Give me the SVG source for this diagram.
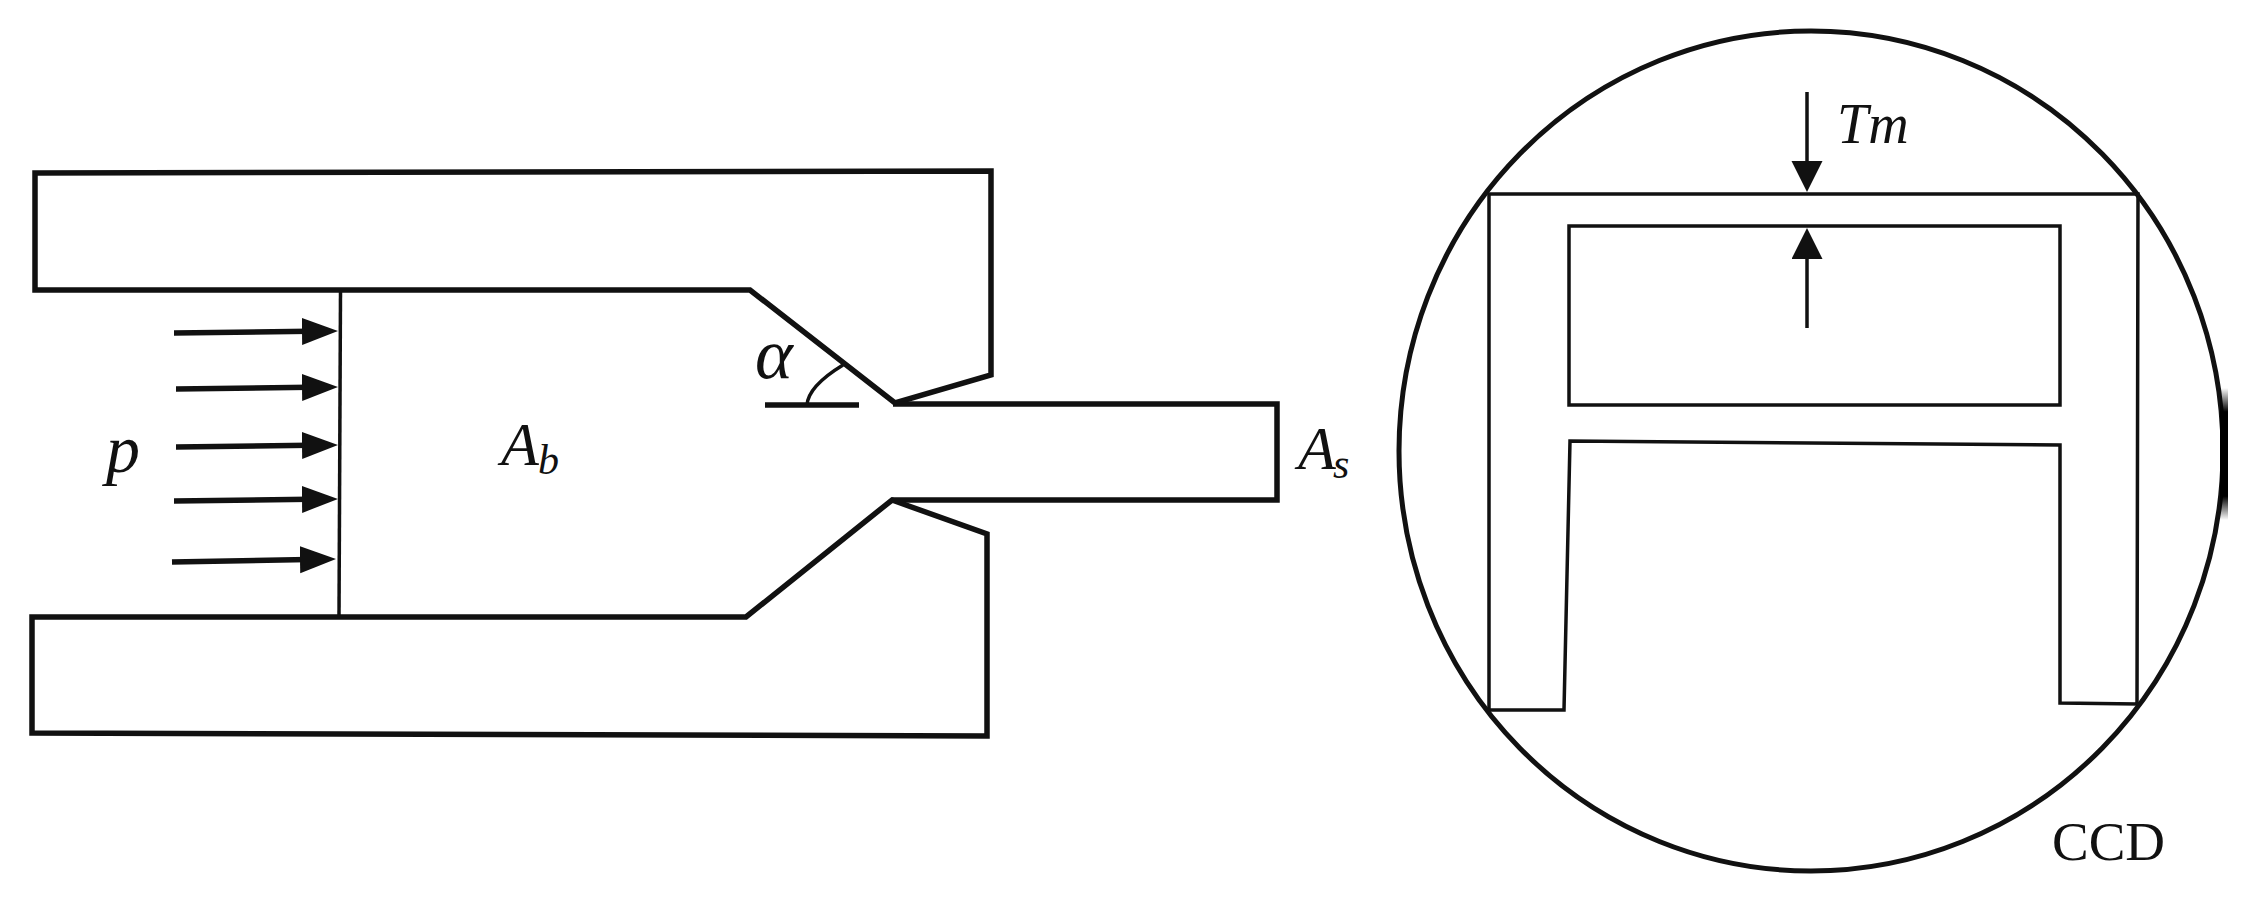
<svg xmlns="http://www.w3.org/2000/svg" width="2256" height="904" viewBox="0 0 2256 904">
<style>
.s{fill:none;stroke:#111;stroke-linejoin:miter;stroke-linecap:butt}
.b{stroke-width:5.5}
.m{stroke-width:3.5}
.c{stroke-width:5}
.t{font-family:"Liberation Serif","Times New Roman",serif;fill:#111}
.i{font-style:italic}
.h{fill:#111;stroke:none}
</style>
<defs>
<marker id="ah" markerUnits="userSpaceOnUse" markerWidth="37" markerHeight="28" refX="8" refY="13.5" orient="auto"><path class="h" d="M0,0L36,13.5L0,27Z"/></marker>
<marker id="dh" markerUnits="userSpaceOnUse" markerWidth="32" markerHeight="32" refX="8" refY="15.5" orient="auto"><path class="h" d="M0,0L31,15.5L0,31Z"/></marker>
<linearGradient id="smear" x1="0" y1="0" x2="0" y2="1"><stop offset="0" stop-color="#000" stop-opacity="0"/><stop offset="0.18" stop-color="#000"/><stop offset="0.82" stop-color="#000"/><stop offset="1" stop-color="#000" stop-opacity="0"/></linearGradient>
</defs>
<rect width="2256" height="904" fill="#fff"/>
<g id="upper-block"><path class="s b" d="M35,173L991,171V375L895,403L750,290H35Z"/></g>
<g id="lower-block"><path class="s b" d="M32,617H746L892,500L987,534V736L32,733Z"/></g>
<g id="nozzle"><path class="s b" d="M893,404H1277V500H892"/></g>
<g id="wall"><path class="s m" d="M340.5,292L339,617"/></g>
<g id="angle"><path class="s b" d="M765,405H859"/><path class="s m" d="M807,405C808,390 825,376 843,365"/></g>
<g id="connectors">
<path class="s b" d="M174,333L310,331.3" marker-end="url(#ah)"/>
<path class="s b" d="M176,389L310,387.3" marker-end="url(#ah)"/>
<path class="s b" d="M176,447L310,445.3" marker-end="url(#ah)"/>
<path class="s b" d="M174,501L310,499.3" marker-end="url(#ah)"/>
<path class="s b" d="M172,562L308,559.5" marker-end="url(#ah)"/>
<path class="s m" d="M1807,92V169" marker-end="url(#dh)"/>
<path class="s m" d="M1807,328V251" marker-end="url(#dh)"/>
</g>
<g id="lens"><ellipse class="s c" cx="1811" cy="451" rx="412" ry="420"/><rect x="2220" y="388" width="8" height="132" fill="url(#smear)"/></g>
<g id="frame"><path class="s m" d="M1489,710H1564L1570,441L2060,445V703L2137,704L2138,194H1489Z"/></g>
<g id="beam"><rect class="s m" x="1569" y="226" width="491" height="179"/></g>
<g id="labels">
<text class="t i" x="106" y="472" font-size="68">p</text>
<text class="t i" x="501" y="465" font-size="62">A</text><text class="t i" x="538" y="474" font-size="42">b</text>
<text class="t i" x="755" y="378" font-size="72">α</text>
<text class="t i" x="1298" y="469" font-size="62">A</text><text class="t i" x="1333" y="478" font-size="42">s</text>
<text class="t i" x="1837" y="143" font-size="56">Tm</text>
<text class="t" x="2052" y="860" font-size="55">CCD</text>
</g>
</svg>
